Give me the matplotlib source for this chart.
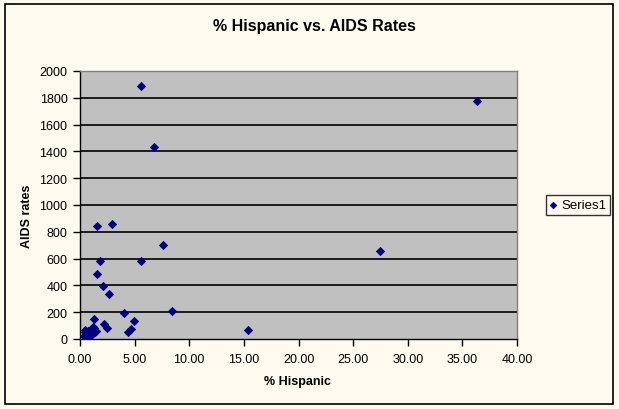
import matplotlib
matplotlib.use("Agg")
import matplotlib.pyplot as plt
from matplotlib.patches import Rectangle

plt.rcParams['font.family'] = ['Liberation Sans', 'DejaVu Sans']

title = "% Hispanic vs. AIDS Rates"
x_label = "% Hispanic"
y_label = "AIDS rates"
series_name = "Series1"

pct_hispanic = [5.6, 36.3, 6.8, 2.9, 1.6, 7.6, 27.5, 1.8, 5.6, 1.6, 2.1, 2.7, 8.4, 4.0,
                4.9, 15.4, 4.7, 4.4, 1.3, 2.2, 2.5,
                0.4, 0.5, 0.6, 0.7, 0.8, 0.9, 1.0, 1.1, 1.2, 0.55, 0.75, 1.3, 1.4,
                0.45, 0.95, 1.15, 0.65, 1.5]
aids_rates = [1885, 1775, 1430, 855, 840, 700, 655, 585, 580, 485, 395, 335, 208, 193,
              133, 65, 72, 50, 148, 112, 82,
              20, 50, 30, 60, 15, 40, 70, 35, 55, 10, 45, 80, 50,
              65, 25, 90, 5, 60]

x_ticks = [0, 5, 10, 15, 20, 25, 30, 35, 40]
y_ticks = [0, 200, 400, 600, 800, 1000, 1200, 1400, 1600, 1800, 2000]

bg = '#FFFAF0'
fig = plt.figure(figsize=(6.19, 4.10), dpi=100, facecolor=bg)
ax = fig.add_axes([80/619, 1-340/410, (517-80)/619, (340-72)/410])
ax.set_facecolor('#C0C0C0')

ax.scatter(pct_hispanic, aids_rates, marker='D', s=18, color='#000080',
           edgecolors='#000080', linewidths=0.5, zorder=3, label=series_name)

ax.set_xlim(0, 40)
ax.set_ylim(0, 2000)
ax.set_xticks(x_ticks)
ax.set_xticklabels([f"{v:.2f}" for v in x_ticks])
ax.set_yticks(y_ticks)
ax.set_yticklabels([str(v) for v in y_ticks])
ax.tick_params(axis='both', direction='out', length=5, width=1, color='black',
               labelsize=9, labelcolor='black')
ax.tick_params(axis='y', pad=4)
ax.tick_params(axis='x', pad=5)

for v in y_ticks[1:-1]:
    ax.axhline(v, color='black', linewidth=1.2, zorder=1)

for side in ['top', 'right']:
    ax.spines[side].set_color('#808080')
    ax.spines[side].set_linewidth(1)
for side in ['left', 'bottom']:
    ax.spines[side].set_color('black')
    ax.spines[side].set_linewidth(1)

ax.set_xlabel(x_label, fontsize=9, fontweight='bold')
ax.set_ylabel(y_label, fontsize=9, fontweight='bold')
ax.xaxis.set_label_coords((297-80)/437, -(382-340)/268)
ax.yaxis.set_label_coords(-(80-27)/437, (340-216)/268)
ax.xaxis.label.set_va('center')
ax.yaxis.label.set_va('center')

fig.text(314/619, 1-27/410, title, ha='center', va='center', fontsize=11.5,
         fontweight='bold')

leg = fig.legend(handles=[ax.collections[0]], labels=[series_name],
                 loc='center', bbox_to_anchor=(578/619, 1-206/410),
                 frameon=True, fancybox=False, fontsize=9.5, handlelength=0.6,
                 handletextpad=0.3, borderpad=0.3, markerscale=0.8)
leg.get_frame().set_edgecolor('black')
leg.get_frame().set_facecolor(bg)
leg.get_frame().set_linewidth(1)

fig.patches.append(Rectangle((5/619, 5/410), (613-5)/619, (405-5)/410,
                             transform=fig.transFigure, fill=False,
                             edgecolor='black', linewidth=1.2))

fig.savefig('out.png', dpi=100, facecolor=bg)
